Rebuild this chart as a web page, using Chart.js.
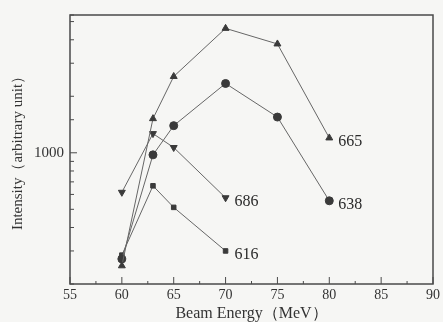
<!DOCTYPE html>
<html>
<head>
<meta charset="utf-8">
<script src="https://cdn.jsdelivr.net/npm/chart.js@4/dist/chart.umd.min.js"></script>
<style>
  html, body { margin: 0; padding: 0; background: #f6f6f4; }
  #wrap { width: 443px; height: 322px; }
</style>
</head>
<body>
<div id="wrap"><canvas id="beamChart" width="443" height="322"></canvas></div>
<script>
// beam energy (MeV)
var energies = [60, 63, 65, 70, 75, 80];
var energiesShort = [60, 63, 65, 70];

// line intensities (arbitrary unit)
var line665 = [250, 1520, 2550, 4600, 3800, 1200];
var line638 = [272, 975, 1395, 2340, 1550, 555];
var line686 = [616, 1265, 1067, 576];
var line616 = [285, 667, 512, 300];

var seriesNames = ["665", "638", "686", "616"];
var xTicks = [55, 60, 65, 70, 75, 80, 85, 90];
var yLabelTicks = [1000];

var ink = "#3a3a3a";

function pts(xs, ys) {
  return xs.map(function (x, i) { return {x: x, y: ys[i]}; });
}

function makeSet(name, xs, ys, style, rot) {
  return {
    label: name,
    data: pts(xs, ys),
    borderColor: "#666",
    borderWidth: 1,
    backgroundColor: ink,
    pointBackgroundColor: ink,
    pointBorderColor: ink,
    pointStyle: style,
    pointRotation: rot || 0,
    pointRadius: style == "rect" ? 3.2 : 4,
    showLine: true,
    fill: false,
    tension: 0,
  };
}

// frame, inward ticks and end labels
var framePlugin = {
  id: "frame",
  afterDraw: function (chart) {
    var ctx = chart.ctx;
    var a = chart.chartArea;
    var xs = chart.scales.x;
    var ys = chart.scales.y;
    ctx.save();
    ctx.strokeStyle = "#4a4a4a";
    ctx.lineWidth = 1.5;
    ctx.strokeRect(a.left, a.top, a.right - a.left, a.bottom - a.top);

    ctx.lineWidth = 1;
    ctx.beginPath();
    xTicks.forEach(function (v, i) {
      var px = xs.getPixelForValue(v);
      ctx.moveTo(px, a.bottom);
      ctx.lineTo(px, a.bottom - 7);
      if (i < xTicks.length - 1) {
        var mx = xs.getPixelForValue(v + 2.5);
        ctx.moveTo(mx, a.bottom);
        ctx.lineTo(mx, a.bottom - 3);
      }
    });
    ys.ticks.forEach(function (t) {
      var py = ys.getPixelForValue(t.value);
      if (py < a.top || py > a.bottom) return;
      var len = yLabelTicks.indexOf(t.value) >= 0 ? 7 : 4;
      ctx.moveTo(a.left, py);
      ctx.lineTo(a.left + len, py);
    });
    ctx.stroke();

    ctx.fillStyle = "#2a2a2a";
    ctx.font = "16px 'Liberation Serif'";
    ctx.textBaseline = "middle";
    ctx.textAlign = "left";
    chart.data.datasets.forEach(function (ds, i) {
      var meta = chart.getDatasetMeta(i);
      var last = meta.data[meta.data.length - 1];
      ctx.fillText(seriesNames[i], last.x + 9, last.y + 4);
    });
    ctx.restore();
  }
};

var beamChartConfig = {
  type: "scatter",
  data: {
    datasets: [
      makeSet("665", energies, line665, "triangle"),
      makeSet("638", energies, line638, "circle"),
      makeSet("686", energiesShort, line686, "triangle", 180),
      makeSet("616", energiesShort, line616, "rect"),
    ],
  },
  options: {
    responsive: false,
    animation: false,
    layout: { padding: { top: 13, right: 8, left: 0, bottom: 0 } },
    plugins: {
      legend: { display: false },
      tooltip: { enabled: false },
    },
    scales: {
      x: {
        type: "linear",
        min: 55,
        max: 90,
        afterBuildTicks: function (s) {
          s.ticks = xTicks.map(function (v) { return {value: v}; });
        },
        afterFit: function (s) { s.height = 38; },
        grid: { display: false, drawTicks: false },
        border: { display: false },
        ticks: {
          color: "#333",
          font: { family: "Liberation Serif", size: 14 },
          padding: 3,
          maxRotation: 0,
          autoSkip: false,
        },
        title: {
          display: true,
          text: "Beam Energy（MeV）",
          color: "#333",
          font: { family: "Liberation Serif", size: 16 },
          padding: { top: 0, bottom: -1 },
        },
      },
      y: {
        type: "logarithmic",
        min: 200,
        max: 5420,
        afterFit: function (s) { s.width = 70; },
        grid: { display: false, drawTicks: false },
        border: { display: false },
        ticks: {
          color: "#333",
          font: { family: "Liberation Serif", size: 15 },
          padding: 6,
          autoSkip: false,
          callback: function (v) {
            return yLabelTicks.indexOf(v) >= 0 ? String(v) : "";
          },
        },
        title: {
          display: true,
          text: "Intensity（arbitrary unit）",
          color: "#333",
          font: { family: "Liberation Serif", size: 15 },
          padding: { top: 9, bottom: 0 },
        },
      },
    },
  },
  plugins: [framePlugin],
};

var beamChart = new Chart(document.getElementById("beamChart"), beamChartConfig);
</script>
</body>
</html>
